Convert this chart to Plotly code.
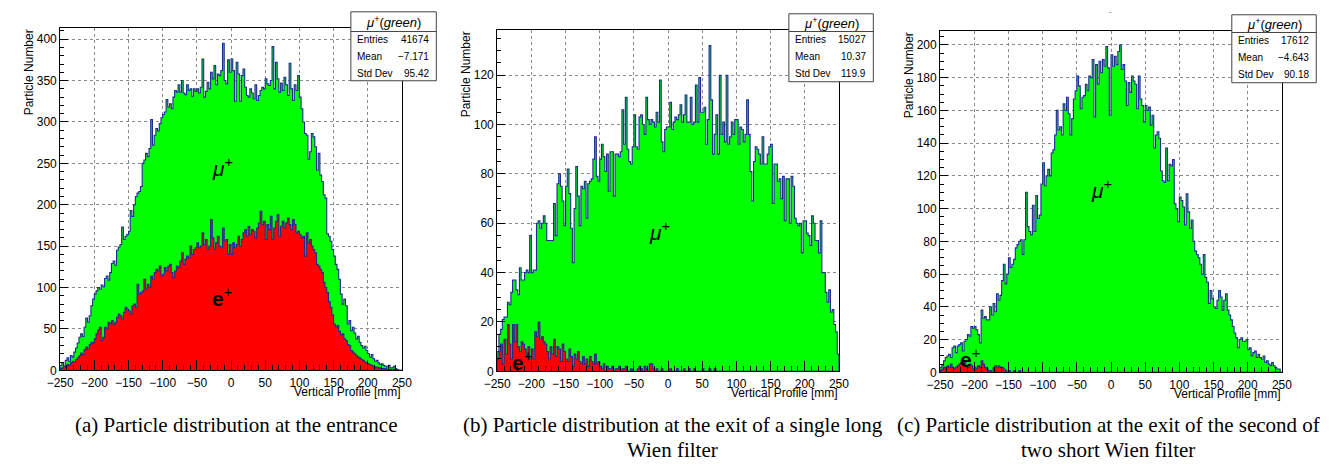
import numpy as np
import plotly.graph_objects as go

# ---------------- data (200 bins of 2.5 mm from -250 to 250 mm) ----------------
x_min, x_max = -250, 250

mu_a = [6, 9, 5, 12, 15, 11, 18, 16, 22, 27,
        33, 40, 44, 41, 52, 63, 58, 66, 78, 86,
        92, 96, 100, 98, 103, 101, 111, 114, 109, 118,
        129, 132, 127, 145, 149, 152, 173, 158, 162, 164,
        168, 193, 186, 200, 210, 214, 216, 222, 250, 254,
        262, 258, 268, 303, 272, 284, 292, 289, 298, 305,
        309, 312, 327, 318, 322, 316, 330, 338, 336, 345,
        336, 350, 335, 333, 345, 338, 340, 331, 340, 337,
        340, 335, 342, 376, 330, 337, 348, 340, 360, 352,
        368, 345, 358, 356, 362, 395, 350, 346, 375, 360,
        376, 362, 325, 372, 358, 325, 356, 364, 342, 332,
        330, 340, 335, 328, 345, 326, 332, 338, 342, 340,
        352, 346, 344, 350, 391, 340, 372, 352, 336, 347,
        338, 354, 345, 332, 371, 340, 326, 345, 338, 356,
        330, 316, 300, 286, 284, 255, 264, 286, 282, 270,
        242, 262, 236, 228, 212, 208, 165, 162, 156, 146,
        138, 128, 122, 110, 92, 80, 86, 78, 56, 60,
        48, 52, 45, 38, 41, 34, 30, 27, 29, 24,
        20, 16, 19, 14, 11, 12, 9, 7, 8, 6,
        5, 4, 6, 3, 3, 5, 2, 1, 0, 0]

e_a = [2, 3, 5, 4, 7, 6, 9, 11, 10, 13,
       15, 18, 21, 19, 25, 28, 26, 31, 34, 33,
       38, 44, 49, 52, 36, 40, 52, 50, 58, 56,
       60, 55, 58, 64, 68, 66, 62, 70, 76, 74,
       72, 68, 78, 80, 76, 104, 92, 94, 96, 110,
       98, 104, 100, 114, 110, 118, 122, 120, 126, 114,
       116, 124, 120, 126, 128, 118, 112, 120, 126, 124,
       132, 142, 128, 134, 138, 136, 150, 140, 146, 148,
       154, 148, 150, 166, 152, 158, 146, 150, 182, 160,
       146, 154, 162, 150, 148, 172, 156, 158, 140, 152,
       140, 154, 148, 152, 162, 150, 158, 166, 170, 162,
       174, 164, 170, 168, 160, 172, 178, 192, 176, 180,
       158, 176, 170, 186, 158, 172, 180, 188, 162, 174,
       180, 172, 178, 184, 176, 170, 182, 176, 166, 168,
       164, 160, 162, 138, 166, 154, 158, 150, 146, 142,
       128, 126, 122, 118, 106, 100, 94, 83, 76, 67,
       56, 52, 54, 47, 43, 44, 38, 36, 31, 30,
       24, 22, 20, 18, 16, 15, 13, 12, 10, 9,
       8, 7, 6, 5, 4, 4, 3, 3, 2, 2,
       2, 1, 1, 1, 0, 1, 0, 0, 0, 0]

mu_b = [8, 15, 17, 21, 22, 22, 28, 27, 32, 37,
        37, 33, 31, 42, 37, 37, 40, 41, 40, 55,
        40, 41, 41, 60, 61, 58, 60, 63, 60, 53,
        53, 53, 53, 68, 55, 76, 80, 75, 69, 59,
        75, 82, 72, 58, 44, 66, 83, 71, 59, 75,
        74, 77, 62, 76, 77, 78, 86, 95, 79, 77,
        86, 92, 87, 81, 88, 73, 89, 89, 71, 88,
        88, 87, 89, 106, 92, 111, 90, 85, 84, 91,
        104, 91, 90, 103, 104, 100, 96, 111, 102, 100,
        102, 101, 99, 105, 101, 118, 93, 89, 98, 99,
        99, 109, 98, 101, 103, 102, 104, 108, 101, 104,
        112, 101, 101, 111, 100, 101, 116, 101, 119, 105,
        105, 107, 92, 102, 132, 110, 88, 96, 104, 88,
        120, 96, 101, 93, 120, 92, 95, 101, 96, 102,
        102, 92, 99, 98, 93, 96, 110, 96, 81, 69,
        85, 91, 90, 88, 84, 95, 84, 84, 88, 91,
        92, 68, 84, 84, 77, 78, 70, 79, 61, 78,
        78, 60, 79, 75, 62, 60, 59, 60, 48, 61,
        61, 56, 55, 51, 63, 60, 53, 53, 48, 61,
        40, 40, 32, 28, 33, 24, 25, 19, 16, 7]

e_b = [5, 8, 11, 3, 13, 7, 19, 11, 5, 19,
       12, 19, 10, 8, 12, 11, 9, 6, 10, 5,
       9, 5, 16, 14, 20, 13, 14, 12, 11, 8,
       5, 10, 7, 13, 6, 10, 9, 4, 11, 8,
       5, 4, 9, 6, 2, 7, 5, 8, 4, 3,
       6, 3, 5, 2, 6, 4, 3, 7, 3, 4,
       2, 1, 3, 0, 2, 1, 1, 2, 0, 1,
       1, 2, 0, 1, 1, 2, 0, 0, 1, 0,
       0, 0, 1, 2, 1, 0, 2, 1, 0, 3,
       3, 1, 0, 1, 0, 0, 1, 0, 0, 0,
       0, 1, 0, 0, 0, 1, 0, 0, 0, 1,
       0, 0, 1, 0, 0, 1, 0, 0, 0, 0,
       1, 0, 0, 0, 1, 0, 0, 1, 0, 0,
       0, 0, 0, 0, 0, 0, 0, 0, 0, 0,
       0, 0, 0, 0, 0, 0, 0, 0, 0, 0,
       0, 0, 0, 0, 0, 0, 0, 0, 0, 0,
       0, 0, 0, 0, 0, 0, 0, 0, 0, 0,
       0, 0, 0, 0, 0, 0, 0, 0, 0, 0,
       0, 0, 0, 0, 0, 0, 0, 0, 0, 0,
       0, 0, 0, 0, 0, 0, 0, 0, 0, 0]

mu_c = [3, 4, 7, 9, 10, 11, 9, 15, 16, 12,
        16, 17, 18, 13, 19, 20, 23, 22, 28, 27,
        28, 26, 23, 18, 38, 33, 34, 32, 32, 40,
        35, 42, 37, 48, 44, 47, 56, 66, 54, 60,
        70, 64, 66, 69, 76, 78, 80, 81, 72, 81,
        110, 89, 86, 84, 102, 86, 108, 94, 96, 115,
        128, 114, 120, 124, 120, 134, 136, 145, 160, 148,
        150, 145, 164, 160, 168, 158, 145, 155, 167, 172,
        181, 175, 161, 168, 169, 176, 172, 181, 180, 191,
        156, 188, 176, 190, 183, 191, 187, 199, 186, 157,
        194, 187, 193, 188, 196, 200, 185, 188, 178, 163,
        177, 171, 181, 178, 176, 161, 181, 167, 163, 153,
        163, 160, 162, 151, 157, 137, 145, 147, 143, 123,
        117, 116, 137, 117, 127, 126, 130, 103, 100, 92,
        107, 105, 101, 90, 109, 98, 88, 93, 80, 74,
        72, 70, 66, 60, 72, 58, 55, 42, 50, 45,
        40, 39, 44, 50, 46, 38, 44, 48, 38, 35,
        32, 28, 24, 21, 15, 20, 21, 19, 19, 20,
        14, 15, 10, 12, 13, 9, 11, 9, 8, 10,
        6, 7, 5, 4, 6, 4, 3, 2, 2, 0]

e_c = [1, 2, 3, 2, 4, 3, 5, 3, 2, 3,
       4, 5, 6, 5, 7, 4, 3, 5, 4, 2,
       3, 2, 4, 3, 7, 5, 3, 2, 1, 1,
       0, 3, 4, 3, 4, 3, 3, 2, 1, 0,
       1, 0, 0, 1, 0, 0, 1, 0, 0, 0] + [0] * 150

stats = [("41674", "\u22127.171", "95.42"),
         ("15027", "10.37", "119.9"),
         ("17612", "\u22124.643", "90.18")]

captions = [["(a) Particle distribution at the entrance"],
            ["(b) Particle distribution at the exit of a single long", "Wien filter"],
            ["(c) Particle distribution at the exit of the second of", "two short Wien filter"]]

y_max = [414, 138.5, 208.8]
y_dtick = [50, 20, 20]
y_minor = [10, 5, 5]

# ---------------- layout helpers ----------------
W, H = 1341, 464
def PX(px): return px / W
def PY(py): return 1 - py / H

frames = [(47, 395, 28, 376), (492, 840, 30, 377), (943, 1291, 31, 378)]
boxes = [(343, 430, 12, 82, 32), (789, 875, 14, 83, 32), (1240, 1326, 15, 84, 33)]
GREEN, RED, OUTLINE = "#00ff00", "#ff0000", "#1f2a94"
SANS = "Liberation Sans, Arial, sans-serif"
SERIF = "Liberation Serif, Times New Roman, serif"

def step_xy(vals):
    v = np.asarray(vals, dtype=float)
    edges = np.linspace(x_min, x_max, len(v) + 1)
    x = np.concatenate([[edges[0]], edges[:-1], [edges[-1], edges[-1]]])
    y = np.concatenate([[0], v, [v[-1], 0]])
    return x, y

fig = go.Figure()
series = [(mu_a, e_a), (mu_b, e_b), (mu_c, e_c)]
layout = dict(width=W, height=H, margin=dict(l=0, r=0, t=0, b=0),
              paper_bgcolor="white", plot_bgcolor="white", showlegend=False)
annotations, shapes = [], []

for i, (mu, ep) in enumerate(series):
    ax = "" if i == 0 else str(i + 1)
    for vals, col in ((mu, GREEN), (ep, RED)):
        xs, ys = step_xy(vals)
        fig.add_trace(go.Scatter(x=xs, y=ys, mode="lines", line_shape="hv",
                                 line=dict(color=OUTLINE, width=1.1),
                                 fill="tozeroy", fillcolor=col,
                                 xaxis="x" + ax, yaxis="y" + ax, hoverinfo="skip"))
    x0, x1, y0, y1 = frames[i]
    layout["xaxis" + ax] = dict(
        domain=[PX(x0), PX(x1)], anchor="y" + ax, range=[x_min, x_max],
        tick0=0, dtick=50, ticks="inside", ticklen=10, tickcolor="black",
        ticklabelstandoff=1,
        showline=True, linecolor="black", linewidth=1, mirror=True,
        showgrid=True, gridcolor="#8a8a8a", griddash="dot", gridwidth=1,
        zeroline=False, tickfont=dict(family=SANS, size=12, color="black"),
        minor=dict(dtick=10, ticks="inside", ticklen=5, tickcolor="black", showgrid=False))
    layout["yaxis" + ax] = dict(
        domain=[PY(y1), PY(y0)], anchor="x" + ax, range=[0, y_max[i]],
        tick0=0, dtick=y_dtick[i], ticks="inside", ticklen=8, tickcolor="black",
        showline=True, linecolor="black", linewidth=1, mirror=True,
        showgrid=True, gridcolor="#8a8a8a", griddash="dot", gridwidth=1,
        zeroline=False, tickfont=dict(family=SANS, size=12, color="black"),
        minor=dict(dtick=y_minor[i], ticks="inside", ticklen=4, tickcolor="black", showgrid=False))

    # axis titles (ROOT style: right / top aligned)
    annotations.append(dict(xref="paper", yref="paper", x=PX(x1), y=PY(y1 + 22),
                            xanchor="right", yanchor="middle", showarrow=False, borderpad=0,
                            text="Vertical Profile [mm]",
                            font=dict(family=SANS, size=12, color="black")))
    annotations.append(dict(xref="paper", yref="paper", x=PX(x0 - 32), y=PY(y0),
                            xanchor="center", yanchor="top", showarrow=False, textangle=-90,
                            text="Particle Number",
                            font=dict(family=SANS, size=12, color="black")))

    # stats box
    bx0, bx1, by0, by1, bsep = boxes[i]
    shapes.append(dict(type="rect", xref="paper", yref="paper",
                       x0=PX(bx0), x1=PX(bx1), y0=PY(by1), y1=PY(by0),
                       line=dict(color="#444444", width=1), fillcolor="white", layer="above"))
    shapes.append(dict(type="line", xref="paper", yref="paper",
                       x0=PX(bx0), x1=PX(bx1), y0=PY(bsep), y1=PY(bsep),
                       line=dict(color="#444444", width=1), layer="above"))
    annotations.append(dict(xref="paper", yref="paper", x=PX((bx0 + bx1) / 2),
                            y=PY((by0 + bsep) / 2), xanchor="center", yanchor="middle",
                            showarrow=False,
                            text="<i>\u03bc</i><sup>+</sup>(<i>green</i>)",
                            font=dict(family=SANS, size=13, color="black")))
    row_y = [bsep + 8, bsep + 25.5, bsep + 43]
    for label, value, ry in zip(["Entries", "Mean", "Std Dev"], stats[i], row_y):
        annotations.append(dict(xref="paper", yref="paper", x=PX(bx0 + 4), y=PY(ry),
                                xanchor="left", yanchor="middle", showarrow=False, text=label,
                                font=dict(family=SANS, size=10, color="black")))
        annotations.append(dict(xref="paper", yref="paper", x=PX(bx1 - 5), y=PY(ry),
                                xanchor="right", yanchor="middle", showarrow=False, text=value,
                                font=dict(family=SANS, size=10, color="black")))

    # captions
    cx = [226, 671, 1114][i]
    for k, line in enumerate(captions[i]):
        annotations.append(dict(xref="paper", yref="paper", x=PX(cx), y=PY(432 + 25 * k),
                                xanchor="center", yanchor="middle", showarrow=False, text=line,
                                font=dict(family=SERIF, size=21, color="black")))

# particle labels inside the plots (data coordinates)
mu_pos = [(-13, 245), (-13, 57), (-14, 112)]
e_pos = [(-13, 88), (-214, 4), (-207, 9)]
for i in range(3):
    ax = "" if i == 0 else str(i + 1)
    annotations.append(dict(xref="x" + ax, yref="y" + ax, x=mu_pos[i][0], y=mu_pos[i][1],
                            showarrow=False, text="<i>\u03bc</i><sup>+</sup>",
                            font=dict(family=SANS, size=21, color="black")))
    annotations.append(dict(xref="x" + ax, yref="y" + ax, x=e_pos[i][0], y=e_pos[i][1],
                            showarrow=False, text="<b>e</b><sup>+</sup>",
                            font=dict(family=SANS, size=21, color="black")))

# small mark at the top of the third pad
annotations.append(dict(xref="paper", yref="paper", x=PX(1120), y=PY(6), showarrow=False,
                        text="-", font=dict(family=SANS, size=7, color="#555555")))

layout["annotations"] = annotations
layout["shapes"] = shapes
fig.update_layout(**layout)
fig.write_html("out.html")
